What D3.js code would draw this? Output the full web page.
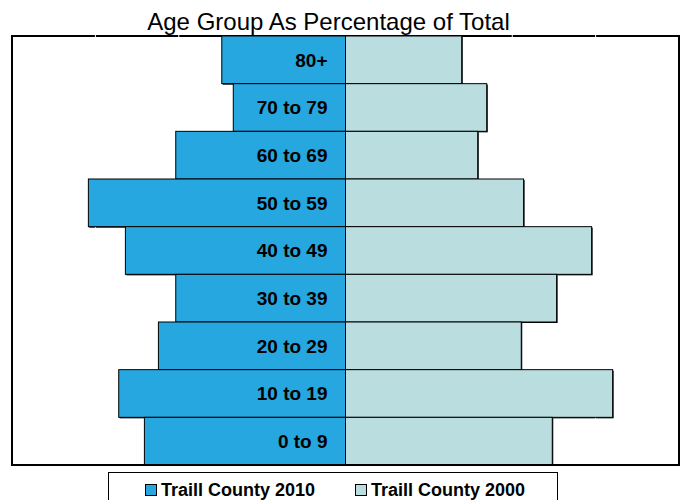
<!-- age pyramid, Traill County 2010 vs 2000 -->
<html>
<head><title>Age Group As Percentage of Total</title>
<script src="https://d3js.org/d3.v7.min.js"></script>
<style>
body { margin:0; background:#fff; }
text { font-family: Arial, "Liberation Sans", sans-serif; }
</style>
</head>
<body>
<svg></svg>
<script>

// data (percent of total)
var ages = ["80+", "70 to 79", "60 to 69", "50 to 59", "40 to 49", "30 to 39", "20 to 29", "10 to 19", "0 to 9"];
var pct2010 = [7.42, 6.73, 10.18, 15.42, 13.20, 10.18, 11.22, 13.60, 12.06];
var pct2000 = [6.97, 8.47, 7.93, 10.68, 14.76, 12.66, 10.54, 16.02, 12.40];
var gridTicks = [-15, -10, 10, 15];
var seriesNames = ["Traill County 2010", "Traill County 2000"];

var width = 681, height = 500;
var plotL = 12, plotR = 679, plotT = 36, plotB = 465;
var blue = "#26A7DF", pale = "#BADDE0";

var svg = d3.select("svg").attr("width", width).attr("height", height);

var x = d3.scaleLinear().domain([-20, 20]).range([plotL, plotR]);
var y = d3.scaleBand().domain(ages).range([plotT, plotB]).padding(0);

var rows = ages.map(function(a, i) { return {age: a, v10: pct2010[i], v00: pct2000[i]}; });

// title
svg.append("text")
    .attr("x", 328.5).attr("y", 30)
    .attr("text-anchor", "middle")
    .attr("font-size", 24)
    .text("Age Group As Percentage of Total");

// plot frame
svg.append("rect")
    .attr("x", plotL).attr("y", plotT)
    .attr("width", plotR - plotL).attr("height", plotB - plotT)
    .attr("fill", "none").attr("stroke", "#000").attr("stroke-width", 2);

// bar shadows
var g = svg.append("g");
g.selectAll(".sh10").data(rows).enter().append("rect")
    .attr("x", function(d) { return x(-d.v10) + 1; })
    .attr("y", function(d) { return y(d.age) + 1; })
    .attr("width", function(d) { return x(0) - x(-d.v10); })
    .attr("height", y.bandwidth())
    .attr("fill", "#000");
g.selectAll(".sh00").data(rows).enter().append("rect")
    .attr("x", x(0) + 1)
    .attr("y", function(d) { return y(d.age) + 1; })
    .attr("width", function(d) { return x(d.v00) - x(0); })
    .attr("height", y.bandwidth())
    .attr("fill", "#000");

// white gridlines (only show where they cross black lines)
svg.selectAll(".grid").data(gridTicks).enter().append("line")
    .attr("x1", function(d) { return x(d); }).attr("x2", function(d) { return x(d); })
    .attr("y1", plotT - 1).attr("y2", plotB - 2)
    .attr("stroke", "#fff").attr("stroke-width", 1);

// bars
svg.selectAll(".b10").data(rows).enter().append("rect")
    .attr("class", "b10")
    .attr("x", function(d) { return x(-d.v10); })
    .attr("y", function(d) { return y(d.age); })
    .attr("width", function(d) { return x(0) - x(-d.v10); })
    .attr("height", y.bandwidth())
    .attr("fill", blue).attr("stroke", "#000").attr("stroke-width", 1);

svg.selectAll(".b00").data(rows).enter().append("rect")
    .attr("class", "b00")
    .attr("x", x(0))
    .attr("y", function(d) { return y(d.age); })
    .attr("width", function(d) { return x(d.v00) - x(0); })
    .attr("height", y.bandwidth())
    .attr("fill", pale).attr("stroke", "#000").attr("stroke-width", 1);

// category labels
svg.selectAll(".lab").data(rows).enter().append("text")
    .attr("x", x(0) - 18)
    .attr("y", function(d) { return y(d.age) + y.bandwidth() / 2; })
    .attr("dy", "0.36em")
    .attr("text-anchor", "end")
    .attr("font-size", 19).attr("font-weight", "bold")
    .text(function(d) { return d.age; });

// bottom frame line redrawn on top
svg.append("line")
    .attr("x1", plotL).attr("x2", plotR).attr("y1", plotB).attr("y2", plotB)
    .attr("stroke", "#000").attr("stroke-width", 2);

// legend
var leg = svg.append("g");
leg.append("rect")
    .attr("x", 108.5).attr("y", 472.5).attr("width", 449).attr("height", 40)
    .attr("fill", "#fff").attr("stroke", "#000").attr("stroke-width", 1);

var legX = [145, 355];
var legColors = [blue, pale];
seriesNames.forEach(function(n, i) {
    leg.append("rect")
        .attr("x", legX[i] + 0.5).attr("y", 484.5).attr("width", 11).attr("height", 11)
        .attr("fill", legColors[i]).attr("stroke", "#000").attr("stroke-width", 1);
    leg.append("text")
        .attr("x", legX[i] + 16).attr("y", 496)
        .attr("font-size", 18).attr("font-weight", "bold")
        .text(n);
});

</script>
</body>
</html>
